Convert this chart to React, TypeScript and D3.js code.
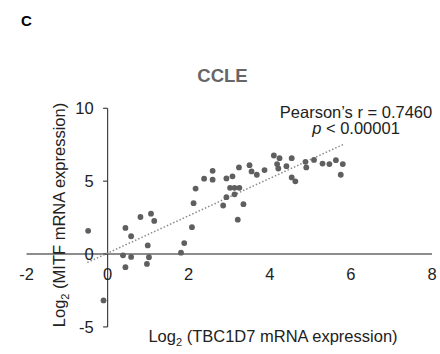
import React from "react";
import * as d3 from "d3";

const xValues = [
  -0.48, 0.44, 0.58, 0.81, 1.07, 1.15, 0.99, 0.38, 0.58, 0.44, 1.02, 0.97, -0.1,
  1.81, 1.89, 2.08, 2.12, 2.17, 2.38, 2.59, 2.59, 2.93, 3.08, 2.85, 2.93, 3.02,
  3.13, 3.25, 3.13, 3.35, 3.21, 3.24, 3.5, 3.55, 3.68, 3.87, 4.1, 4.24, 4.18,
  4.21, 4.41, 4.54, 4.54, 4.63, 4.88, 4.9, 5.09, 5.3, 5.47, 5.63, 5.8, 5.75,
];
const yValues = [
  1.59, 1.79, 1.22, 2.54, 2.77, 2.27, 0.59, -0.09, -0.2, -0.9, -0.22, -0.68, -3.18,
  0.09, 0.75, 1.84, 3.49, 4.49, 5.17, 5.71, 5.1, 5.19, 5.33, 3.33, 3.9, 4.54,
  4.54, 4.54, 4.1, 3.42, 2.36, 5.94, 6.1, 5.67, 5.44, 5.76, 6.76, 6.58, 6.17,
  5.87, 6.03, 6.58, 5.26, 4.99, 6.33, 5.94, 6.46, 6.21, 6.17, 6.44, 6.17, 5.44,
];
const trendX = [-0.5, 5.82];
const trendY = [-0.58, 7.53];
const xTicks = [-2, 0, 2, 4, 6, 8];
const yTicks = [-5, 0, 5, 10];

const FONT = "'Liberation Sans', Arial, sans-serif";

export default function App() {
  const x = d3.scaleLinear().domain([-2, 8]).range([26.5, 432]);
  const y = d3.scaleLinear().domain([-5, 10]).range([326.9, 108.3]);
  const line = d3
    .line<number>()
    .x((d) => x(d))
    .y((_, i) => y(trendY[i]));

  return (
    <svg
      width={440}
      height={354}
      style={{ position: "absolute", left: 0, top: 0, background: "#fff" }}
      fontFamily={FONT}
    >
      <rect width={440} height={354} fill="#fff" />
      <text x={21} y={26} fontSize={15} fontWeight="bold" fill="#000">
        C
      </text>
      <text
        x={222.5}
        y={81.7}
        fontSize={18.5}
        fontWeight="bold"
        fill="#666"
        textAnchor="middle"
      >
        CCLE
      </text>

      {/* x axis */}
      <line x1={x(-2)} x2={x(8)} y1={y(0)} y2={y(0)} stroke="#666" strokeWidth={1.5} />
      {/* y axis */}
      <line x1={x(0)} x2={x(0)} y1={y(10)} y2={y(-5)} stroke="#444" strokeWidth={1.2} />
      {yTicks.map((t) => (
        <g key={"yt" + t}>
          <line x1={x(0) - 4.5} x2={x(0)} y1={y(t)} y2={y(t)} stroke="#444" strokeWidth={1.2} />
          <text
            x={x(0) - 14}
            y={y(t)}
            fontSize={16.5}
            textAnchor="end"
            dominantBaseline="central"
            fill="#222"
          >
            {t}
          </text>
        </g>
      ))}
      {xTicks.map((t) => (
        <text key={"xt" + t} x={x(t)} y={279.5} fontSize={16.5} textAnchor="middle" fill="#222">
          {t}
        </text>
      ))}

      {/* trend line */}
      <path
        d={line(trendX) || ""}
        fill="none"
        stroke="#8a8a8a"
        strokeWidth={1.5}
        strokeDasharray="1.5,2"
      />

      {xValues.map((v, i) => (
        <circle key={"p" + i} cx={x(v)} cy={y(yValues[i])} r={2.9} fill="#5f5f5f" />
      ))}

      <text x={356} y={117.5} fontSize={16.5} textAnchor="middle" fill="#222">
        Pearson’s r = 0.7460
      </text>
      <text x={356} y={134.3} fontSize={16.5} textAnchor="middle" fill="#222">
        <tspan fontStyle="italic">p</tspan> &lt; 0.00001
      </text>

      <text x={273} y={342} fontSize={16.5} textAnchor="middle" fill="#222">
        Log<tspan fontSize={11} dy={4}>2</tspan>
        <tspan dy={-4}> (TBC1D7 mRNA expression)</tspan>
      </text>
      <text
        transform="translate(65,215) rotate(-90)"
        fontSize={16.5}
        textAnchor="middle"
        fill="#222"
      >
        Log<tspan fontSize={11} dy={4}>2</tspan>
        <tspan dy={-4}> (MITF mRNA expression)</tspan>
      </text>
    </svg>
  );
}
